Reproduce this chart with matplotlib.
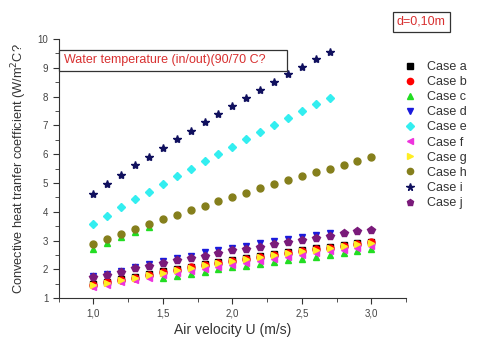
import numpy as np
import matplotlib
matplotlib.use('Agg')
import matplotlib.pyplot as plt
from matplotlib.ticker import MultipleLocator, FuncFormatter

plt.rcParams['font.family'] = ['Liberation Sans', 'DejaVu Sans']

# air velocity (m/s)
u_full = [1.0, 1.1, 1.2, 1.3, 1.4, 1.5, 1.6, 1.7, 1.8, 1.9, 2.0,
          2.1, 2.2, 2.3, 2.4, 2.5, 2.6, 2.7, 2.8, 2.9, 3.0]
u_short = u_full[:18]
u_c_hi = u_full[:5]
u_c_lo = u_full[5:]

case_a = [1.49, 1.58, 1.67, 1.75, 1.84, 1.94, 2.03, 2.10, 2.19, 2.26, 2.33,
          2.41, 2.47, 2.54, 2.61, 2.68, 2.74, 2.79, 2.85, 2.91, 2.97]
case_b = [1.46, 1.55, 1.64, 1.72, 1.81, 1.90, 1.99, 2.07, 2.15, 2.23, 2.30,
          2.37, 2.44, 2.51, 2.58, 2.64, 2.70, 2.76, 2.82, 2.88, 2.94]
case_c_hi = [2.72, 2.92, 3.12, 3.30, 3.48]
case_c_lo = [1.69, 1.77, 1.85, 1.92, 2.00, 2.07, 2.13, 2.20, 2.26, 2.32,
             2.38, 2.44, 2.50, 2.56, 2.63, 2.70]
case_d = [1.78, 1.85, 1.96, 2.08, 2.18, 2.30, 2.41, 2.48, 2.59, 2.66, 2.75,
          2.82, 2.91, 2.98, 3.06, 3.13, 3.21, 3.28]
case_e = [3.59, 3.87, 4.17, 4.44, 4.70, 4.97, 5.24, 5.49, 5.76, 6.00, 6.27,
          6.52, 6.76, 7.01, 7.26, 7.49, 7.74, 7.97]
case_f = [1.38, 1.47, 1.55, 1.63, 1.71, 1.80, 1.88, 1.96, 2.03, 2.10, 2.17,
          2.24, 2.31, 2.38, 2.45, 2.51, 2.57, 2.63, 2.69, 2.75, 2.80]
case_g = [1.45, 1.54, 1.63, 1.72, 1.80, 1.89, 1.98, 2.06, 2.14, 2.21, 2.28,
          2.36, 2.43, 2.50, 2.57, 2.63, 2.69, 2.75, 2.81, 2.87, 2.93]
case_h = [2.88, 3.06, 3.23, 3.41, 3.58, 3.74, 3.90, 4.06, 4.21, 4.37, 4.52,
          4.67, 4.82, 4.96, 5.10, 5.24, 5.38, 5.50, 5.63, 5.76, 5.90]
case_i = [4.63, 4.96, 5.29, 5.62, 5.92, 6.22, 6.52, 6.81, 7.11, 7.40, 7.68,
          7.96, 8.23, 8.51, 8.78, 9.03, 9.30, 9.56]
case_j = [1.73, 1.82, 1.93, 2.04, 2.13, 2.23, 2.32, 2.40, 2.48, 2.56, 2.66,
          2.72, 2.79, 2.88, 2.94, 3.03, 3.11, 3.18, 3.25, 3.33, 3.38]

fig = plt.figure(figsize=(4.8, 3.49), dpi=100)
ax = fig.add_axes([0.1223, 0.1453, 0.7237, 0.7427])

ms = 5
ax.plot(u_full, case_a, 's', color='black', ms=4.5, label='Case a')
ax.plot(u_full, case_b, 'o', color='red', ms=ms, label='Case b')
ax.plot(u_c_hi + u_c_lo, case_c_hi + case_c_lo, '^', color='#22dd22', ms=ms, label='Case c')
ax.plot(u_short, case_d, 'v', color='#1a1adc', ms=ms, label='Case d')
ax.plot(u_short, case_e, 'D', color='#33eef0', ms=4.5, label='Case e')
ax.plot(u_full, case_f, '<', color='#ee33dd', ms=ms, label='Case f')
ax.plot(u_full, case_g, '>', color='#ffee22', ms=ms, label='Case g')
ax.plot(u_full, case_h, 'o', color='#857f1c', ms=ms, label='Case h')
ax.plot(u_short, case_i, '*', color='#10105e', ms=6, label='Case i')
ax.plot(u_full, case_j, 'p', color='#7a1a7a', ms=ms + 0.5, label='Case j')

ax.set_xlim(0.75, 3.25)
ax.set_ylim(1, 10)
ax.spines['top'].set_visible(False)
ax.spines['right'].set_visible(False)
ax.spines['left'].set_color('#333333')
ax.spines['bottom'].set_color('#333333')
ax.xaxis.set_major_locator(MultipleLocator(0.5))
ax.xaxis.set_minor_locator(MultipleLocator(0.25))
ax.yaxis.set_major_locator(MultipleLocator(1))
ax.yaxis.set_minor_locator(MultipleLocator(0.5))
ax.xaxis.set_major_formatter(FuncFormatter(lambda v, p: f'{v:.1f}'.replace('.', ',')))
ax.tick_params(which='both', direction='out', colors='#333333', labelsize=7, labelcolor='#444444')
ax.tick_params(which='major', length=4)
ax.tick_params(which='minor', length=3)

ax.set_xlabel('Air velocity U (m/s)', fontsize=10, color='#333333', labelpad=3)
ax.set_ylabel('Convective heat tranfer coefficient (W/m$^2$C?', fontsize=9.2, color='#333333', labelpad=6)

ax.legend(loc='upper left', bbox_to_anchor=(0.98, 0.935), frameon=False, fontsize=9,
          handletextpad=0.8, labelspacing=0.25, markerscale=0.9, handlelength=1.0,
          borderaxespad=0.0, labelcolor='#333333')

fig.text(0.133, 0.827, 'Water temperature (in/out)(90/70 C?     ', color='#d83030', fontsize=9,
         va='center', ha='left',
         bbox=dict(boxstyle='square,pad=0.35', fc='white', ec='#333333', lw=0.9))
fig.text(0.827, 0.937, 'd=0,10m', color='#d83030', fontsize=9, va='center', ha='left',
         bbox=dict(boxstyle='square,pad=0.3', fc='white', ec='#333333', lw=0.9))

fig.savefig('out.png', dpi=100)
